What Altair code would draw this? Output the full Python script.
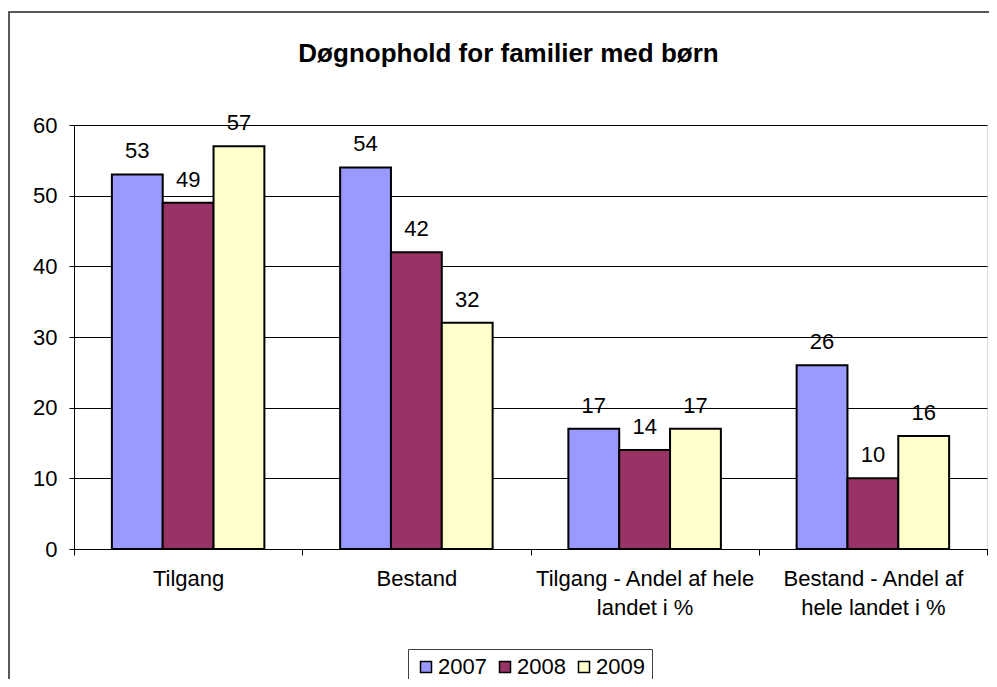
import altair as alt
import pandas as pd

categories = ["Tilgang", "Bestand", "Tilgang - Andel af hele|landet i %", "Bestand - Andel af|hele landet i %"]
years = ["2007", "2008", "2009"]
v2007 = [53, 54, 17, 26]
v2008 = [49, 42, 14, 10]
v2009 = [57, 32, 17, 16]
colors = ["#9999FF", "#993366", "#FFFFCC"]
y_ticks = [0, 10, 20, 30, 40, 50, 60]

rows = []
for i, c in enumerate(categories):
    for yr, vals in zip(years, [v2007, v2008, v2009]):
        rows.append({"cat": c, "year": yr, "value": vals[i]})
df = pd.DataFrame(rows)

FONT = "Liberation Sans"
FS = 22

x = alt.X(
    "cat:N", sort=categories,
    scale=alt.Scale(paddingInner=0, paddingOuter=0),
    axis=alt.Axis(title=None, labelAngle=0, labelExpr="split(datum.label, '|')",
                  labelFontSize=FS, labelLineHeight=29, tickBand="extent", tickSize=6,
                  tickColor="black", domainColor="black", labelPadding=13, labelLimit=400,
                  grid=False, labelColor="black", labelFont=FONT),
)
xo = alt.XOffset("year:N", sort=years, scale=alt.Scale(paddingInner=0, paddingOuter=0.745))
y = alt.Y(
    "value:Q",
    scale=alt.Scale(domain=[0, 60], nice=False),
    axis=alt.Axis(title=None, values=y_ticks, gridColor="black", gridWidth=1, gridOpacity=1,
                  tickSize=5, tickColor="black", domainColor="black", labelFontSize=FS,
                  labelPadding=12, labelColor="black", labelFont=FONT),
)
color = alt.Color(
    "year:N", sort=years,
    scale=alt.Scale(domain=years, range=colors),
    legend=alt.Legend(title=None, orient="none", legendX=334, legendY=524, direction="horizontal",
                      symbolType="square", symbolSize=121, symbolStrokeColor="black",
                      symbolStrokeWidth=1.5, labelFontSize=FS, labelFont=FONT, labelColor="black",
                      strokeColor="#404040", padding=7, columnPadding=7, labelOffset=1,
                      fillColor="white"),
)

bars = alt.Chart(df).mark_bar(stroke="black", strokeWidth=2).encode(x=x, xOffset=xo, y=y, color=color)
labels = alt.Chart(df).mark_text(baseline="alphabetic", dy=-16, fontSize=FS, font=FONT, color="black").encode(
    x=x, xOffset=xo, y=y, text="value:Q")
frame = alt.Chart(pd.DataFrame({"f": [0]})).mark_rect(fill="transparent", stroke="#222222", strokeWidth=1.5).encode(
    x=alt.value(-65), x2=alt.value(1100), y=alt.value(-113), y2=alt.value(800))

chart = alt.layer(frame, bars, labels).properties(
    width=913, height=424,
    autosize="none",
    padding={"left": 66, "top": 117, "right": 2, "bottom": 130},
    title=alt.TitleParams("Døgnophold for familier med børn", fontSize=26, fontWeight="bold",
                          font=FONT, anchor="middle", dx=-22, dy=60, color="black"),
).configure_view(fill="#C0C0C0", stroke="#808080", strokeWidth=2).configure(background="white")

chart.save("out.html", embed_options={"renderer": "svg", "actions": False})
